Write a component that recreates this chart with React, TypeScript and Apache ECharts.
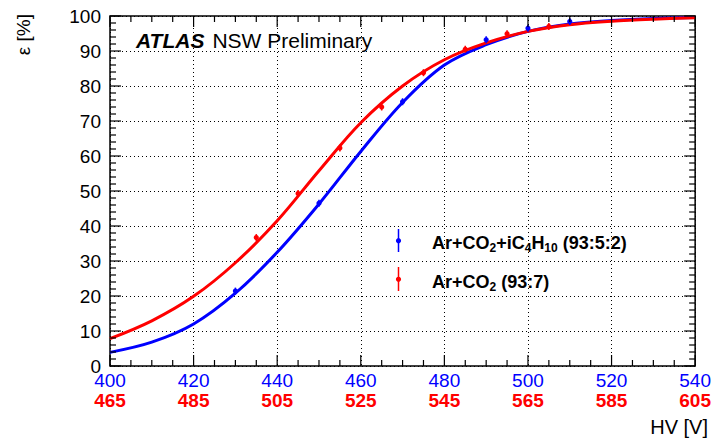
import React, { useEffect, useRef } from "react";
import * as echarts from "echarts";

// Fit curves
const blueCurveX = [400, 410, 420, 430, 440, 450, 460, 470, 480, 490, 500, 510, 520, 530, 540];
const blueCurveY = [3.9, 6.8, 12.0, 20.8, 32.5, 46.3, 61.3, 75.3, 86.0, 91.8, 95.6, 97.7, 98.7, 99.3, 99.6];
const redCurveX = [465, 475, 485, 495, 505, 515, 525, 535, 545, 555, 565, 575, 585, 595, 605];
const redCurveY = [7.8, 12.9, 19.9, 29.5, 41.5, 55.8, 69.5, 80.0, 87.5, 92.3, 95.6, 97.5, 98.5, 99.1, 99.5];

// Measured points
const bluePointX = [430, 450, 470, 490, 500, 510];
const bluePointY = [21.4, 46.5, 75.5, 93.2, 96.5, 98.4];
const bluePointErr = [1.0, 1.0, 1.0, 1.0, 1.0, 1.0];
const redPointX = [500, 510, 520, 530, 540, 550, 560, 570];
const redPointY = [36.7, 49.3, 62.3, 74.0, 83.8, 90.5, 94.9, 97.0];
const redPointErr = [1.0, 1.0, 1.0, 1.0, 1.0, 1.0, 1.0, 1.0];

// Tick positions (major ones carry labels)
const xMajorTicks = [400, 420, 440, 460, 480, 500, 520, 540];
const xMinorTicks = [405, 410, 415, 425, 430, 435, 445, 450, 455, 465, 470, 475, 485, 490, 495, 505, 510, 515, 525, 530, 535];
const yMajorTicks = [0, 10, 20, 30, 40, 50, 60, 70, 80, 90, 100];
const yMinorTicks = [2, 4, 6, 8, 12, 14, 16, 18, 22, 24, 26, 28, 32, 34, 36, 38, 42, 44, 46, 48, 52, 54, 56, 58, 62, 64, 66, 68, 72, 74, 76, 78, 82, 84, 86, 88, 92, 94, 96, 98];

const BLUE = "#0000ff";
const RED = "#ff0000";
const FONT = "'Liberation Sans', Arial, Helvetica, sans-serif";
const X_MIN = 400;
const X_MAX = 540;
const Y_MIN = 0;
const Y_MAX = 100;

function pointSeries(xs: number[], ys: number[], es: number[], color: string, xAxisIndex: number) {
  return {
    type: "custom",
    xAxisIndex,
    yAxisIndex: 0,
    z: 5,
    data: xs.map((x, i) => [x, ys[i], es[i]]),
    renderItem: (params: any, api: any) => {
      const x = api.value(0);
      const y = api.value(1);
      const e = api.value(2);
      const p = api.coord([x, y]);
      const t = api.coord([x, y + e]);
      const b = api.coord([x, y - e]);
      return {
        type: "group",
        children: [
          { type: "line", shape: { x1: p[0], y1: t[1], x2: p[0], y2: b[1] }, style: { stroke: color, lineWidth: 1.5 } },
          { type: "circle", shape: { cx: p[0], cy: p[1], r: 2.6 }, style: { fill: color } },
        ],
      };
    },
  };
}

// one custom series draws the tick marks on all four sides of the frame
function tickSeries(xMaj: number[], xMin: number[], yMaj: number[], yMin: number[]) {
  const data: number[][] = [];
  xMaj.forEach((v) => data.push([v, Y_MIN, 0, 1]));
  xMin.forEach((v) => data.push([v, Y_MIN, 0, 0]));
  yMaj.forEach((v) => data.push([X_MIN, v, 1, 1]));
  yMin.forEach((v) => data.push([X_MIN, v, 1, 0]));
  return {
    type: "custom",
    xAxisIndex: 0,
    yAxisIndex: 0,
    silent: true,
    clip: false,
    z: 6,
    data,
    renderItem: (params: any, api: any) => {
      const isY = api.value(2) === 1;
      const len = api.value(3) === 1 ? 11 : 6;
      const st = { stroke: "#000", lineWidth: 1.2 };
      if (!isY) {
        const x = api.value(0);
        const b = api.coord([x, Y_MIN]);
        const t = api.coord([x, Y_MAX]);
        return {
          type: "group",
          children: [
            { type: "line", shape: { x1: b[0], y1: b[1], x2: b[0], y2: b[1] - len }, style: st },
            { type: "line", shape: { x1: t[0], y1: t[1], x2: t[0], y2: t[1] + len }, style: st },
          ],
        };
      }
      const y = api.value(1);
      const l = api.coord([X_MIN, y]);
      const r = api.coord([X_MAX, y]);
      return {
        type: "group",
        children: [
          { type: "line", shape: { x1: l[0], y1: l[1], x2: l[0] + len, y2: l[1] }, style: st },
          { type: "line", shape: { x1: r[0], y1: r[1], x2: r[0] - len, y2: r[1] }, style: st },
        ],
      };
    },
  };
}

export default function App() {
  const ref = useRef<HTMLDivElement>(null);
  useEffect(() => {
    const chart = echarts.init(ref.current!, null, { renderer: "svg" });
    const gridDots = { show: true, lineStyle: { color: "#000", type: [1, 3], width: 1 } };
    chart.setOption({
      animation: false,
      backgroundColor: "#fff",
      textStyle: { fontFamily: FONT },
      grid: {
        left: 110,
        right: 17,
        top: 16,
        bottom: 72,
        containLabel: false,
        show: true,
        borderColor: "#000",
        borderWidth: 1.5,
        backgroundColor: "transparent",
      },
      xAxis: [
        {
          type: "value",
          min: X_MIN,
          max: X_MAX,
          interval: 20,
          position: "bottom",
          axisLine: { show: false },
          axisTick: { show: false },
          splitLine: gridDots,
          axisLabel: { color: BLUE, fontSize: 19, margin: 5, fontFamily: FONT },
        },
        {
          type: "value",
          min: 465,
          max: 605,
          interval: 20,
          position: "bottom",
          offset: 20,
          axisLine: { show: false },
          axisTick: { show: false },
          splitLine: { show: false },
          axisLabel: { color: RED, fontSize: 19, fontWeight: "bold", margin: 5, fontFamily: FONT },
        },
      ],
      yAxis: [
        {
          type: "value",
          min: Y_MIN,
          max: Y_MAX,
          interval: 10,
          position: "left",
          axisLine: { show: false },
          axisTick: { show: false },
          splitLine: gridDots,
          axisLabel: { color: "#000", fontSize: 19, margin: 9, fontFamily: FONT },
        },
      ],
      series: [
        {
          type: "line",
          xAxisIndex: 0,
          yAxisIndex: 0,
          data: blueCurveX.map((x, i) => [x, blueCurveY[i]]),
          smooth: 0.35,
          showSymbol: false,
          lineStyle: { color: BLUE, width: 3 },
          z: 3,
        },
        {
          type: "line",
          xAxisIndex: 1,
          yAxisIndex: 0,
          data: redCurveX.map((x, i) => [x, redCurveY[i]]),
          smooth: 0.35,
          showSymbol: false,
          lineStyle: { color: RED, width: 3 },
          z: 4,
        },
        pointSeries(bluePointX, bluePointY, bluePointErr, BLUE, 0),
        pointSeries(redPointX, redPointY, redPointErr, RED, 1),
        tickSeries(xMajorTicks, xMinorTicks, yMajorTicks, yMinorTicks),
      ],
      graphic: [
        {
          type: "text",
          x: 136,
          y: 40,
          style: {
            text: "{b|ATLAS}{n|NSW Preliminary}",
            verticalAlign: "middle",
            rich: {
              b: { fontSize: 21, fontWeight: "bold", fontStyle: "italic", fontFamily: FONT, fill: "#000" },
              n: { fontSize: 21, fontFamily: FONT, fill: "#000", padding: [0, 0, 0, 8] },
            },
          },
          z: 10,
        },
        // legend
        { type: "line", shape: { x1: 398.5, y1: 229, x2: 398.5, y2: 252 }, style: { stroke: BLUE, lineWidth: 1.5 }, z: 10 },
        { type: "circle", shape: { cx: 398.5, cy: 240.7, r: 2.6 }, style: { fill: BLUE }, z: 10 },
        { type: "line", shape: { x1: 398.5, y1: 267, x2: 398.5, y2: 291 }, style: { stroke: RED, lineWidth: 1.5 }, z: 10 },
        { type: "circle", shape: { cx: 398.5, cy: 279.3, r: 2.6 }, style: { fill: RED }, z: 10 },
        {
          type: "text",
          x: 432,
          y: 243,
          style: {
            text: "{a|Ar+CO}{s|2}{a|+iC}{s|4}{a|H}{s|10}{a| (93:5:2)}",
            verticalAlign: "middle",
            rich: {
              a: { fontSize: 18, fontWeight: "bold", fontFamily: FONT, lineHeight: 22, fill: "#000" },
              s: { fontSize: 12, fontWeight: "bold", fontFamily: FONT, lineHeight: 12, verticalAlign: "bottom", fill: "#000" },
            },
          },
          z: 10,
        },
        {
          type: "text",
          x: 432,
          y: 281.5,
          style: {
            text: "{a|Ar+CO}{s|2}{a| (93:7)}",
            verticalAlign: "middle",
            rich: {
              a: { fontSize: 18, fontWeight: "bold", fontFamily: FONT, lineHeight: 22, fill: "#000" },
              s: { fontSize: 12, fontWeight: "bold", fontFamily: FONT, lineHeight: 12, verticalAlign: "bottom", fill: "#000" },
            },
          },
          z: 10,
        },
        {
          type: "text",
          x: 708,
          y: 427,
          style: { text: "HV [V]", fontSize: 20, fontFamily: FONT, fill: "#000", align: "right", verticalAlign: "middle" },
          z: 10,
        },
        {
          type: "text",
          x: 23,
          y: 14,
          rotation: Math.PI / 2,
          style: { text: "ε [%]", fontSize: 19, fontFamily: FONT, fill: "#000", align: "right", verticalAlign: "middle" },
          z: 10,
        },
      ],
    });
    return () => chart.dispose();
  }, []);
  return (
    <div
      ref={ref}
      style={{ position: "absolute", left: 0, top: 0, width: 714, height: 438, background: "#fff" }}
    />
  );
}
